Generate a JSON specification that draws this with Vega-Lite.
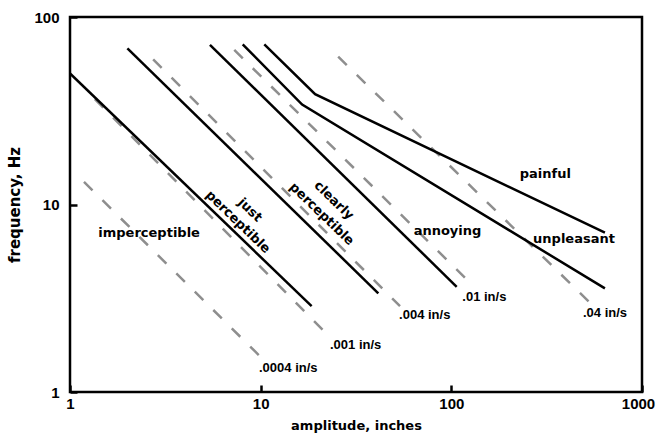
{
  "$schema": "https://vega.github.io/schema/vega-lite/v6.json",
  "width": 572,
  "height": 375,
  "autosize": {"type": "none"},
  "padding": {"left": 70, "top": 17, "right": 15, "bottom": 42},
  "background": "white",
  "config": {
    "view": {"stroke": "black", "strokeWidth": 2.5},
    "axis": {
      "domain": false,
      "grid": false,
      "tickColor": "black",
      "tickWidth": 2.5,
      "tickSize": -7,
      "labelColor": "black",
      "labelFont": "Liberation Sans",
      "labelFontWeight": "bold",
      "labelFontSize": 15,
      "labelFlush": false,
      "labelOverlap": false,
      "titleFont": "DejaVu Sans",
      "titleFontWeight": "bold",
      "titleFontSize": 13,
      "titleColor": "black"
    }
  },
  "datasets": {
    "lines": [
      {"id": "L1", "kind": "solid", "a": 1, "f": 50},
      {"id": "L1", "kind": "solid", "a": 18.5, "f": 2.87},
      {"id": "L2", "kind": "solid", "a": 2, "f": 68},
      {"id": "L2", "kind": "solid", "a": 41.4, "f": 3.36},
      {"id": "L3", "kind": "solid", "a": 5.42, "f": 71},
      {"id": "L3", "kind": "solid", "a": 106.7, "f": 3.64},
      {"id": "L4", "kind": "solid", "a": 8.05, "f": 71.5},
      {"id": "L4", "kind": "solid", "a": 16.5, "f": 34.1},
      {"id": "L4", "kind": "solid", "a": 639, "f": 3.57},
      {"id": "L5", "kind": "solid", "a": 10.45, "f": 71.5},
      {"id": "L5", "kind": "solid", "a": 19.3, "f": 38.8},
      {"id": "L5", "kind": "solid", "a": 639, "f": 7.07},
      {"id": "D1", "kind": "dashed", "a": 1.184, "f": 13.2},
      {"id": "D1", "kind": "dashed", "a": 10.25, "f": 1.5},
      {"id": "D2", "kind": "dashed", "a": 1.35, "f": 36.5},
      {"id": "D2", "kind": "dashed", "a": 23.1, "f": 1.96},
      {"id": "D3", "kind": "dashed", "a": 2.73, "f": 59.5},
      {"id": "D3", "kind": "dashed", "a": 53.8, "f": 2.87},
      {"id": "D4", "kind": "dashed", "a": 7.27, "f": 66.7},
      {"id": "D4", "kind": "dashed", "a": 125.3, "f": 3.83},
      {"id": "D5", "kind": "dashed", "a": 25.5, "f": 61.4},
      {"id": "D5", "kind": "dashed", "a": 527, "f": 3.03}
    ],
    "labels": [
      {"group": "flat", "text": "imperceptible", "a": 2.6, "f": 7.05},
      {"group": "flat", "text": "annoying", "a": 95.5, "f": 7.22},
      {"group": "flat", "text": "painful", "a": 311, "f": 14.5},
      {"group": "flat", "text": "unpleasant", "a": 440, "f": 6.52},
      {"group": "tilted", "text": "just", "a": 8.79, "f": 9.35},
      {"group": "tilted", "text": "perceptible", "a": 7.6, "f": 8.07},
      {"group": "tilted", "text": "clearly", "a": 24.2, "f": 10.5},
      {"group": "tilted", "text": "perceptible", "a": 20.9, "f": 8.9},
      {"group": "speed", "text": ".0004 in/s", "a": 9.8, "f": 1.34},
      {"group": "speed", "text": ".001 in/s", "a": 23.1, "f": 1.78},
      {"group": "speed", "text": ".004 in/s", "a": 53.2, "f": 2.57},
      {"group": "speed", "text": ".01 in/s", "a": 114.2, "f": 3.22},
      {"group": "speed", "text": ".04 in/s", "a": 490.4, "f": 2.63}
    ]
  },
  "encoding": {
    "x": {
      "field": "a",
      "type": "quantitative",
      "scale": {"type": "log", "domain": [1, 1000], "nice": false},
      "axis": {
        "title": "amplitude, inches",
        "values": [1, 10, 100, 1000],
        "format": "d",
        "labelPadding": 11,
        "labelOffset": {"condition": {"test": "datum.value == 1000", "value": -4}, "value": 0},
        "titlePadding": 8
      }
    },
    "y": {
      "field": "f",
      "type": "quantitative",
      "scale": {"type": "log", "domain": [1, 100], "nice": false},
      "axis": {"title": "frequency, Hz", "values": [1, 10, 100], "format": "d", "labelPadding": 18, "titlePadding": 11, "titleFontSize": 15}
    }
  },
  "layer": [
    {
      "data": {"name": "lines"},
      "transform": [{"filter": "datum.kind == 'dashed'"}],
      "mark": {"type": "line", "color": "#8e8e8e", "strokeWidth": 2.5, "strokeDash": [12, 14], "clip": true},
      "encoding": {"detail": {"field": "id"}}
    },
    {
      "data": {"name": "lines"},
      "transform": [{"filter": "datum.kind == 'solid'"}],
      "mark": {"type": "line", "color": "black", "strokeWidth": 2.5, "clip": true},
      "encoding": {"detail": {"field": "id"}}
    },
    {
      "data": {"name": "labels"},
      "transform": [{"filter": "datum.group == 'flat'"}],
      "mark": {"type": "text", "font": "DejaVu Sans", "fontWeight": "bold", "fontSize": 13, "color": "black", "align": "center", "baseline": "middle"},
      "encoding": {"text": {"field": "text"}}
    },
    {
      "data": {"name": "labels"},
      "transform": [{"filter": "datum.group == 'tilted'"}],
      "mark": {"type": "text", "font": "DejaVu Sans", "fontWeight": "bold", "fontSize": 13, "color": "black", "align": "center", "baseline": "middle", "angle": 44},
      "encoding": {"text": {"field": "text"}}
    },
    {
      "data": {"name": "labels"},
      "transform": [{"filter": "datum.group == 'speed'"}],
      "mark": {"type": "text", "font": "Liberation Sans", "fontWeight": "bold", "fontSize": 13, "color": "black", "align": "left", "baseline": "middle"},
      "encoding": {"text": {"field": "text"}}
    }
  ]
}
